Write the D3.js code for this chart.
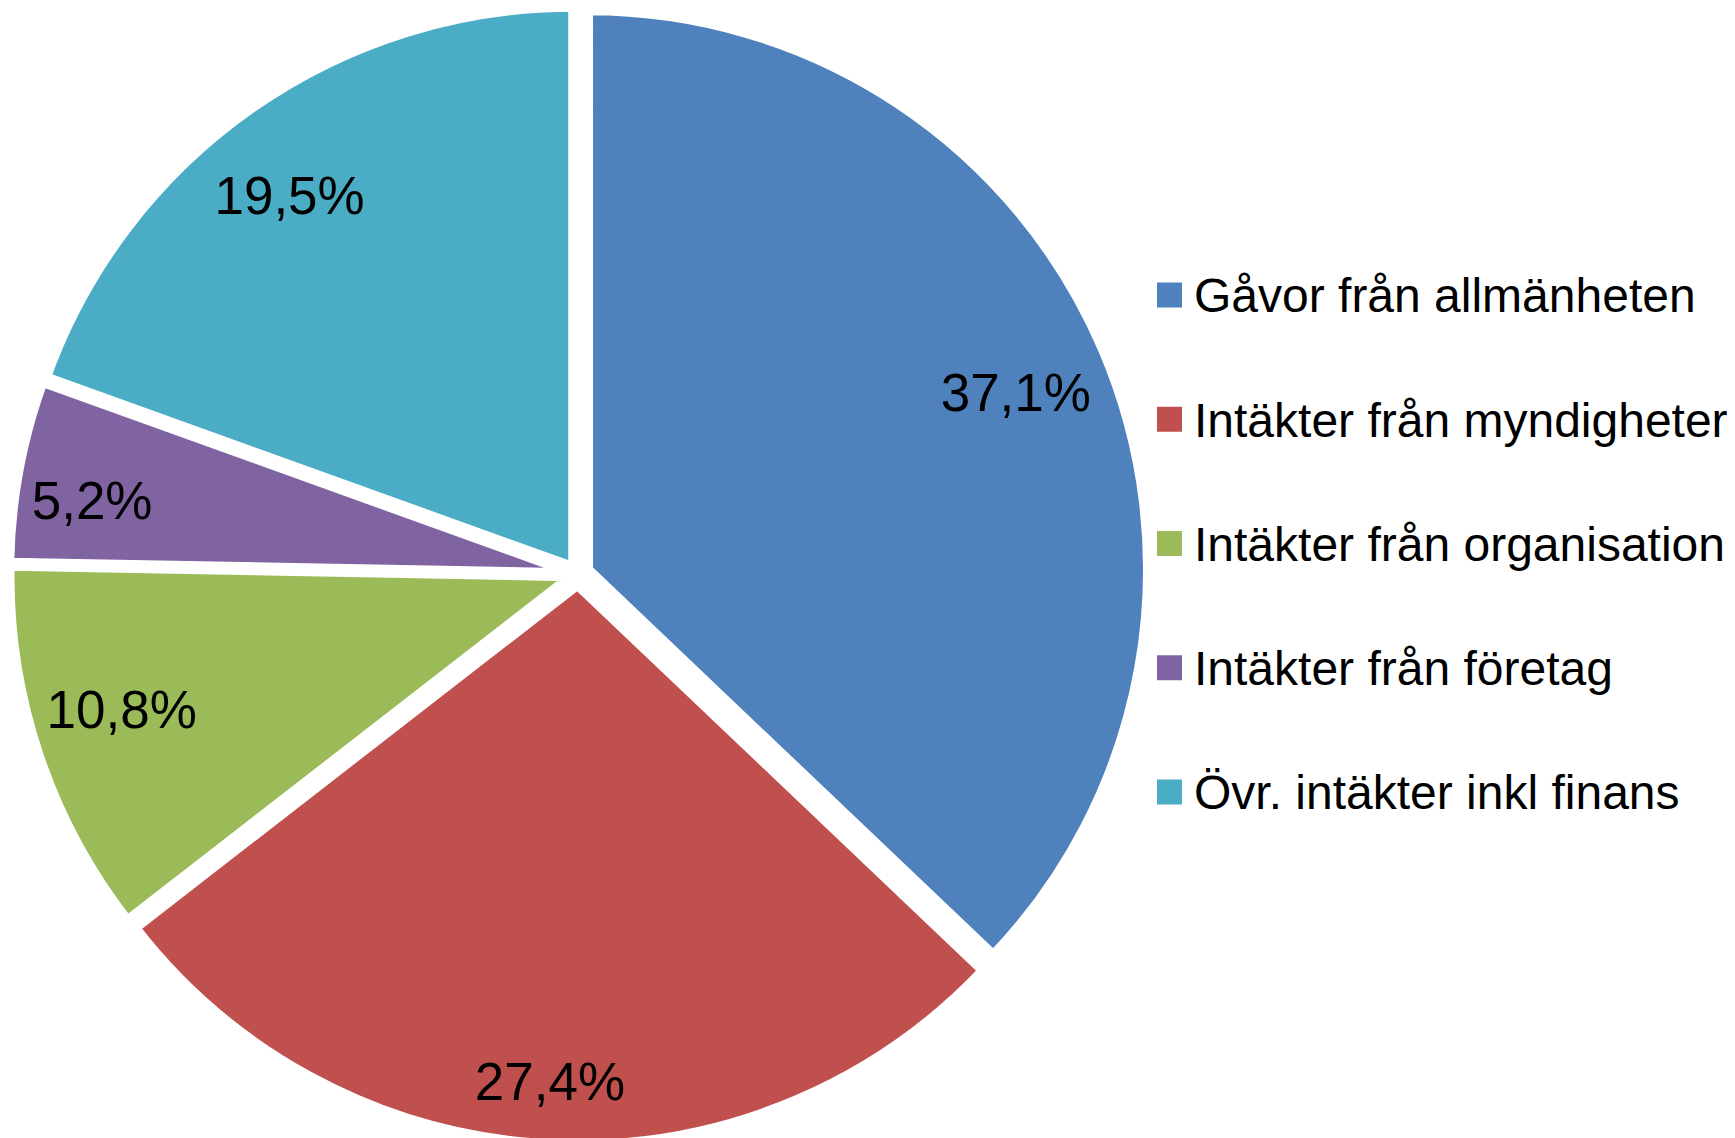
<!DOCTYPE html>
<html>
<head>
<meta charset="utf-8">
<script src="https://cdn.jsdelivr.net/npm/d3@7"></script>
<style>
  body { margin: 0; background: #fff; }
  svg { display: block; font-family: 'Liberation Sans', Arial, sans-serif; }
</style>
</head>
<body>
<div id="chart"></div>
<script>
const categories = ['Gåvor från allmänheten', 'Intäkter från myndigheter', 'Intäkter från organisation', 'Intäkter från företag', 'Övr. intäkter inkl finans']
const shares = [37.1, 27.4, 10.8, 5.2, 19.5]

const colors = ['#4F81BD', '#C0504D', '#9BBB59', '#8064A2', '#4BACC6']
// slice pull-out (px), label distance (share of radius) and label turn (deg)
const explode = [12, 12, 10, 10, 10]
const labelAt = [0.828, 0.889, 0.835, 0.863, 0.836]
const labelTurn = [0.7, 0.3, 1.9, -1.8, -2.2]

const fullWidth = 1735
const fullHeight = 1138
const cx = 578
const cy = 574
const radius = 558

const pct = v => d3.format('.1f')(v).replace('.', ',') + '%'

const svg = d3.select('#chart')
  .append('svg')
    .attr('width', fullWidth)
    .attr('height', fullHeight)

const pie = d3.pie().sort(null).value(d => d)
const arcs = pie(shares)
const arc = d3.arc().innerRadius(0).outerRadius(radius)

const polar = (a, r) => [Math.sin(a) * r, -Math.cos(a) * r]
const midAngle = d => (d.startAngle + d.endAngle) / 2

const g = svg.append('g')
  .attr('transform', `translate(${cx}, ${cy})`)

// fills first, then white borders over them
const slice = g.selectAll('g.slice')
  .data(arcs)
  .enter()
  .append('g')
    .attr('class', 'slice')
    .attr('transform', d => {
      const [x, y] = polar(midAngle(d), explode[d.index])
      return `translate(${x}, ${y})`
    })

slice.append('path')
  .attr('d', arc)
  .attr('fill', (d, i) => colors[i])

g.selectAll('g.slice')
  .append('path')
  .attr('d', arc)
  .attr('fill', 'none')
  .attr('stroke', '#fff')
  .attr('stroke-width', 8)
  .attr('stroke-linejoin', 'miter')

// data labels
const labelXY = d => polar(midAngle(d) + labelTurn[d.index] * Math.PI / 180, radius * labelAt[d.index])

slice.append('text')
  .attr('x', d => labelXY(d)[0])
  .attr('y', d => labelXY(d)[1])
  .attr('dy', '0.36em')
  .attr('text-anchor', 'middle')
  .attr('font-size', 53)
  .attr('fill', '#000')
  .text(d => pct(d.data))

// legend
const legendY = d3.scalePoint()
  .domain(categories)
  .range([295, 792])

const legend = svg.append('g')
  .attr('transform', 'translate(1157, 0)')

const item = legend.selectAll('g')
  .data(categories)
  .enter()
  .append('g')
    .attr('transform', d => `translate(0, ${legendY(d)})`)

item.append('rect')
  .attr('x', 0)
  .attr('y', -12.5)
  .attr('width', 25)
  .attr('height', 25)
  .attr('fill', (d, i) => colors[i])

item.append('text')
  .attr('x', 37)
  .attr('dy', '0.36em')
  .attr('font-size', 48)
  .attr('fill', '#000')
  .text(d => d)
</script>
</body>
</html>
